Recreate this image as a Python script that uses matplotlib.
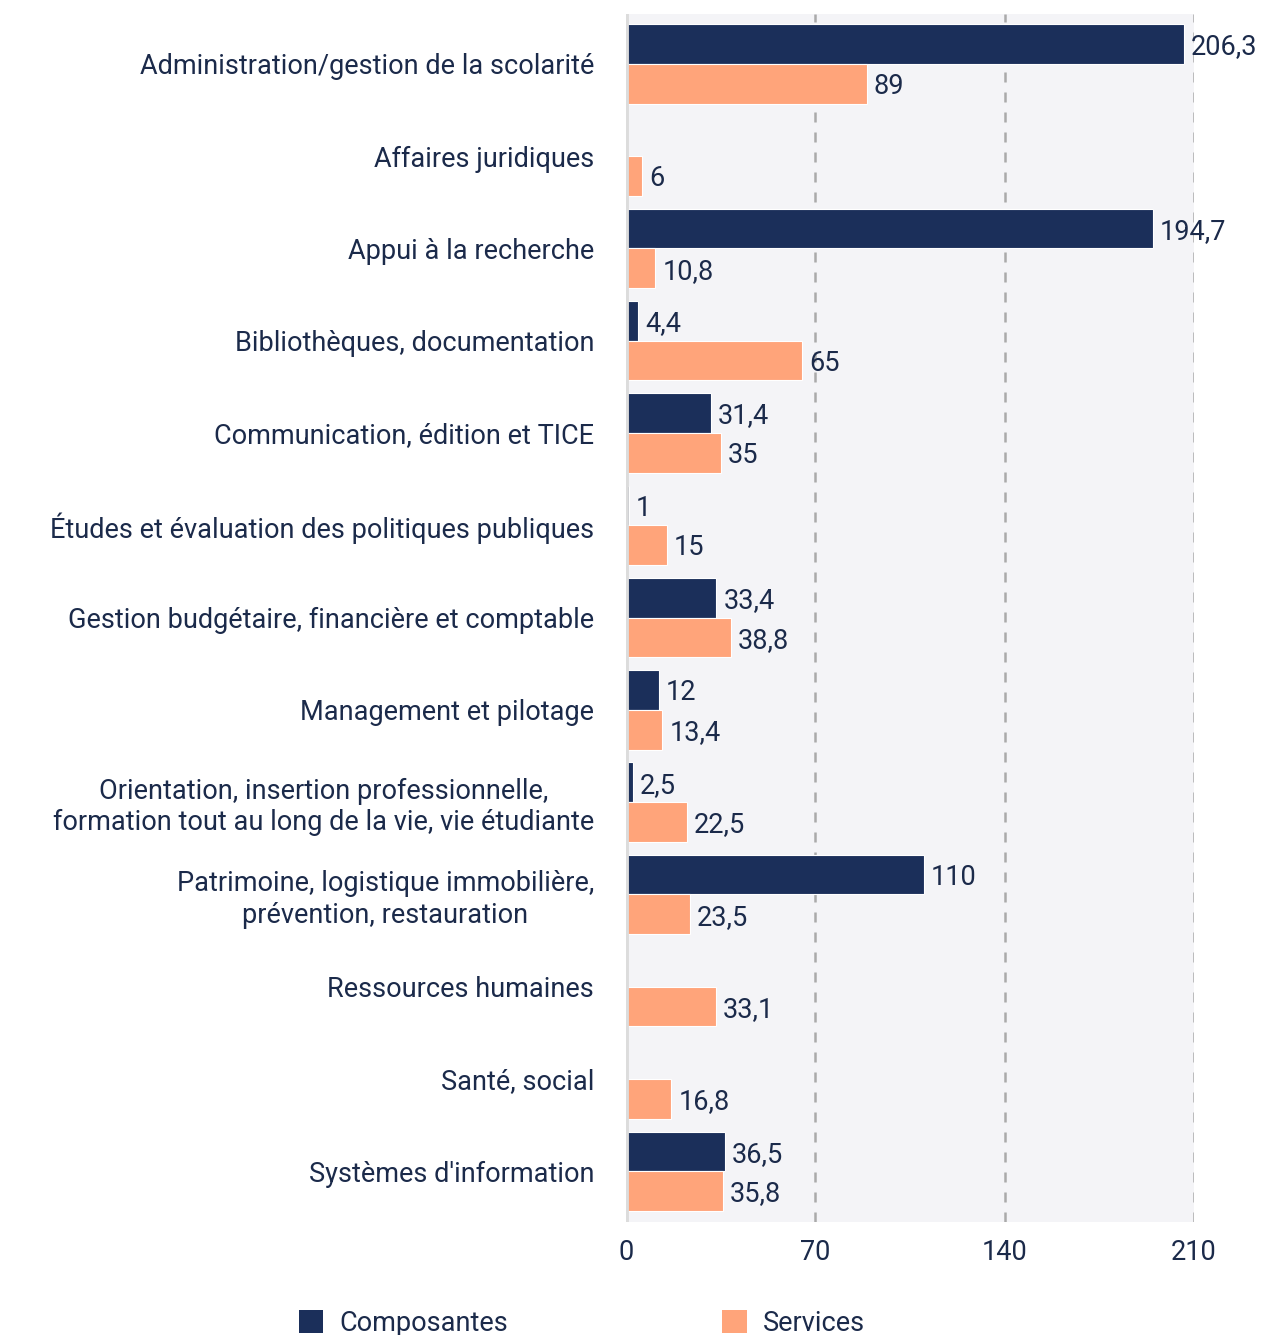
import numpy as np
import matplotlib
matplotlib.use("Agg")
import matplotlib.pyplot as plt
from matplotlib.patches import Patch

# data
categories = [
    "Administration/gestion de la scolarité",
    "Affaires juridiques",
    "Appui à la recherche",
    "Bibliothèques, documentation",
    "Communication, édition et TICE",
    "Études et évaluation des politiques publiques",
    "Gestion budgétaire, financière et comptable",
    "Management et pilotage",
    "Orientation, insertion professionnelle,\nformation tout au long de la vie, vie étudiante",
    "Patrimoine, logistique immobilière,\nprévention, restauration",
    "Ressources humaines",
    "Santé, social",
    "Systèmes d'information",
]
composantes = [206.3, None, 194.7, 4.4, 31.4, 1, 33.4, 12, 2.5, 110, None, None, 36.5]
services = [89, 6, 10.8, 65, 35, 15, 38.8, 13.4, 22.5, 23.5, 33.1, 16.8, 35.8]
xticks = [0, 70, 140, 210]

navy = "#1b2f5a"
orange = "#ffa47a"
txt = "#1b2a4a"
fs = 19.5

plt.rcParams['font.family'] = ['Roboto', 'DejaVu Sans']

fig = plt.figure(figsize=(12.65, 13.35), dpi=100)
ax = fig.add_axes([0.4949, 0.0846, 0.4490, 0.9049])
ax.set_facecolor("#f4f4f7")

def fmt(v):
    s = ("%.1f" % v).rstrip("0").rstrip(".")
    return s.replace(".", ",")

y = np.arange(len(categories))
h = 0.43
comp_vals = [v if v is not None else 0 for v in composantes]
ax.barh(y - h / 2, comp_vals, height=h, color=navy, edgecolor="white", linewidth=0.8, zorder=3)
ax.barh(y + h / 2, services, height=h, color=orange, edgecolor="white", linewidth=0.8, zorder=3)

# value labels next to the bars
for i in range(len(categories)):
    if composantes[i] is not None:
        ax.annotate(fmt(composantes[i]), (composantes[i], y[i] - h / 2), xytext=(5, -2),
                    textcoords="offset points", va="center", ha="left",
                    fontsize=fs, color=txt, zorder=5, annotation_clip=False)
    ax.annotate(fmt(services[i]), (services[i], y[i] + h / 2), xytext=(5, -2),
                textcoords="offset points", va="center", ha="left",
                fontsize=fs, color=txt, zorder=5, annotation_clip=False)

ax.set_xlim(0, 210)
ax.set_ylim(len(categories) - 0.45, -0.54)
ax.set_xticks(xticks)
ax.set_xticklabels([str(t) for t in xticks], fontsize=fs, color=txt)
ax.set_yticks(y)
ax.set_yticklabels(categories, fontsize=fs, color=txt, multialignment="center")
ax.tick_params(axis="both", length=0)
ax.tick_params(axis="y", pad=23)
ax.tick_params(axis="x", pad=12)

for t in xticks[1:]:
    ax.axvline(t, color="#aaaaaa", linestyle=(0, (4, 4)), linewidth=1.8, zorder=2)
ax.axvline(0, color="#dcdcdc", linewidth=3.5, zorder=4)

for s in ax.spines.values():
    s.set_visible(False)

handles = [Patch(facecolor=navy, label="Composantes"),
           Patch(facecolor=orange, label="Services")]
fig.legend(handles=handles, loc="lower left", bbox_to_anchor=(0.217, -0.0195), ncol=2,
           frameon=False, fontsize=fs, handlelength=0.9, handleheight=0.9,
           handletextpad=0.6, columnspacing=7.9, labelcolor=txt)

fig.savefig("out.png", dpi=100)
